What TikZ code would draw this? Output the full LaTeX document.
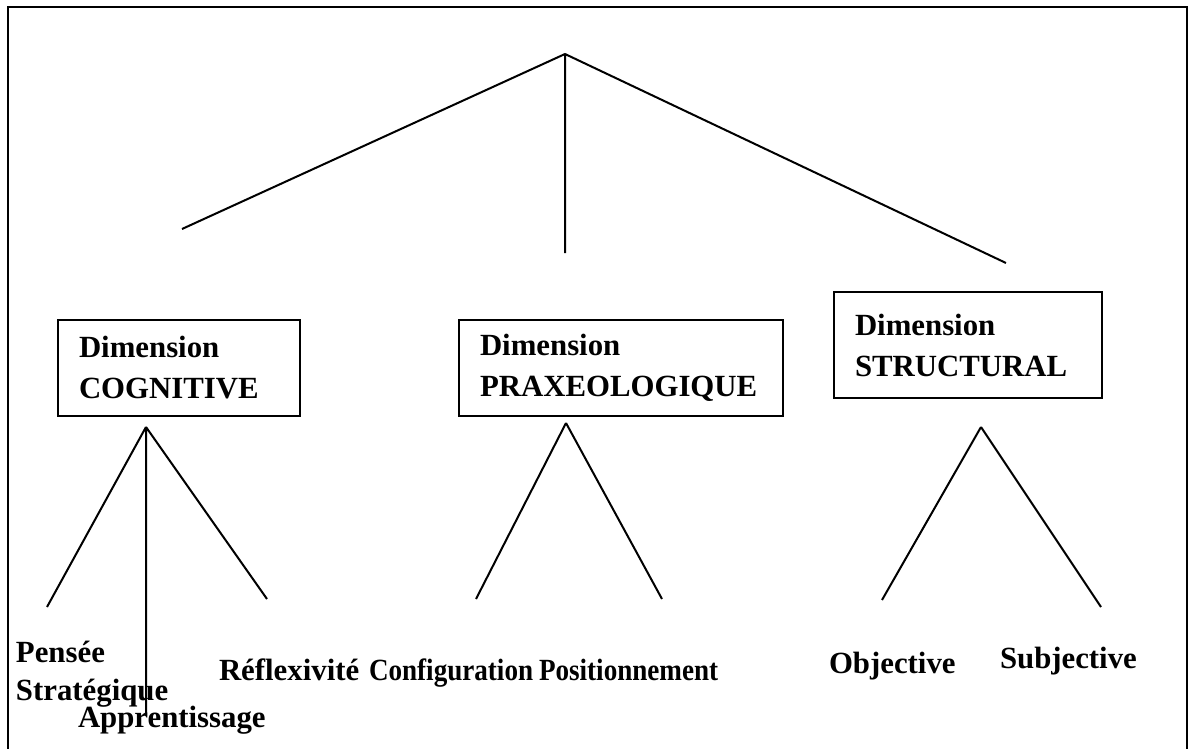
\documentclass[tikz,border=0pt]{standalone}
\usepackage{fontspec}
\setmainfont{Liberation Serif}
\newfontfamily\narrowfont[FakeStretch=0.88]{Liberation Serif}
\usetikzlibrary{positioning}

\begin{document}
\begin{tikzpicture}[x=0.5pt,y=-0.5pt,line width=1pt,
  dimbox/.style={draw,rectangle,anchor=north west,align=left,
    inner xsep=10.5pt,inner ysep=0pt,
    font=\fontsize{15.4}{20.5}\selectfont\bfseries},
  leaf/.style={anchor=base west,inner sep=0pt,align=left,
    font=\fontsize{15.4}{19}\selectfont\bfseries},
  narrowleaf/.style={leaf,font=\narrowfont\fontsize{15.4}{19}\selectfont\bfseries}]

  \useasboundingbox (0,0) rectangle (1195,749);

  % outer frame, open at the bottom
  \draw[line width=1.3pt] (8,749) -- (8,7) -- (1187,7) -- (1187,749);

  % the three dimensions
  \node[dimbox,text width=100pt,minimum height=48pt] (cog) at (57,319) {Dimension\\COGNITIVE};
  \node[dimbox,text width=141pt,minimum height=48pt] (prax) at (458,319) {Dimension\\PRAXEOLOGIQUE};
  \node[dimbox,text width=113pt,minimum height=53pt] (struct) at (833,291) {Dimension\\STRUCTURAL};

  % draw top fork
  \coordinate (top) at (565,54);
  \coordinate (topl) at (182,229);
  \coordinate (topm) at (565,253);
  \coordinate (topr) at (1006,263);
  \draw (top) -- (topl) (top) -- (topm) (top) -- (topr);

  % draw legs under cognitive
  \coordinate (cogtop) at (146,427);
  \coordinate (cogl) at (47,607);
  \coordinate (cogr) at (267,599);
  \coordinate (cogdown) at (146,716);
  \draw (cogtop) -- (cogl) (cogtop) -- (cogr) (cogtop) -- (cogdown);

  % draw legs under praxeologique
  \coordinate (praxtop) at (566,423);
  \coordinate (praxl) at (476,599);
  \coordinate (praxr) at (662,599);
  \draw (praxtop) -- (praxl) (praxtop) -- (praxr);

  % draw legs under structural
  \coordinate (structtop) at (981,427);
  \coordinate (structl) at (882,600);
  \coordinate (structr) at (1101,607);
  \draw (structtop) -- (structl) (structtop) -- (structr);

  % leaves
  \node[leaf] (pens) at (15,700) {Pensée\\Stratégique};
  \node[leaf] (appr) at (77,727) {Apprentissage};
  \node[leaf] (refl) at (218,680) {Réflexivité};
  \node[narrowleaf] (conf) at (368,680) {Configuration};
  \node[narrowleaf] (posi) at (538,680) {Positionnement};
  \node[leaf] (obj) at (828,673) {Objective};
  \node[leaf] (subj) at (999,668) {Subjective};

\end{tikzpicture}
\end{document}
